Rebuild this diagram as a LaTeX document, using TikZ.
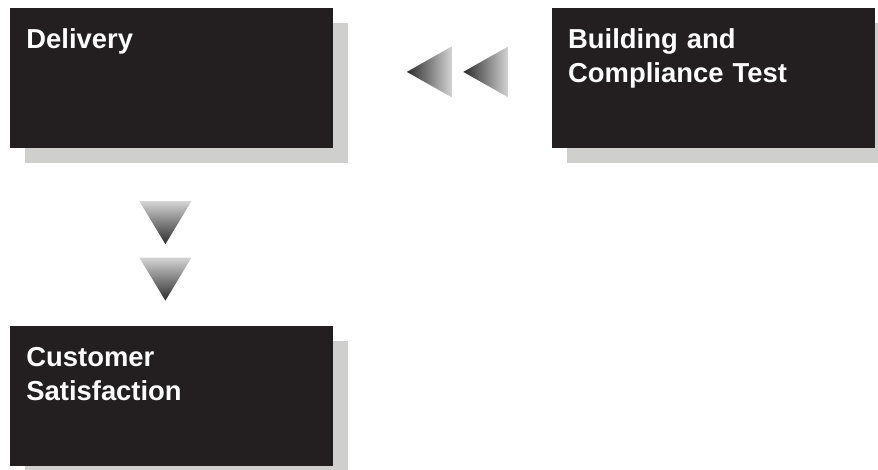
\documentclass[tikz,border=0pt]{standalone}
\usepackage{fontspec}
\setmainfont{Liberation Sans}
\usetikzlibrary{positioning, shapes.geometric, shadows}
\definecolor{boxblack}{HTML}{231F20}
\definecolor{shadowgrey}{HTML}{CFD0CE}
\definecolor{tipgrey}{HTML}{2B2B2B}
\definecolor{basegrey}{HTML}{D4D4D4}

\begin{document}
\begin{tikzpicture}[
  x=0.5pt, y=-0.5pt,
  box/.style={fill=boxblack, text=white, align=left, anchor=north west,
              text width=145.5pt, inner xsep=8pt, inner ysep=0pt,
              text height=20pt, text depth=50pt,
              font=\fontsize{13.7}{17}\selectfont\bfseries,
              general shadow={fill=shadowgrey, shadow xshift=7.5pt, shadow yshift=-7.5pt}},
  tri/.style={isosceles triangle, isosceles triangle stretches,
              inner sep=0pt, draw=none},
  lefttri/.style={tri, shape border rotate=180, minimum width=25.5pt,
                  minimum height=22.5pt, left color=tipgrey, right color=basegrey},
  downtri/.style={tri, shape border rotate=-90, minimum width=26pt,
                  minimum height=21.5pt, top color=basegrey, bottom color=tipgrey}]
\useasboundingbox (0,0) rectangle (878,470);
\node[box] (deliv) at (10,8) {Delivery};
\node[box, right=109pt of deliv] (build) {Building and\\Compliance Test};
\node[box, below=88.5pt of deliv] (cust) {Customer\\Satisfaction};
% arrows between the boxes
\node[lefttri, right=36pt of deliv, yshift=3.25pt] (arrA) {};
\node[lefttri, right=5pt of arrA] (arrB) {};
\node[downtri, below=26pt of deliv, xshift=-3.25pt] (arrC) {};
\node[downtri, below=6pt of arrC] (arrD) {};
\end{tikzpicture}
\end{document}
